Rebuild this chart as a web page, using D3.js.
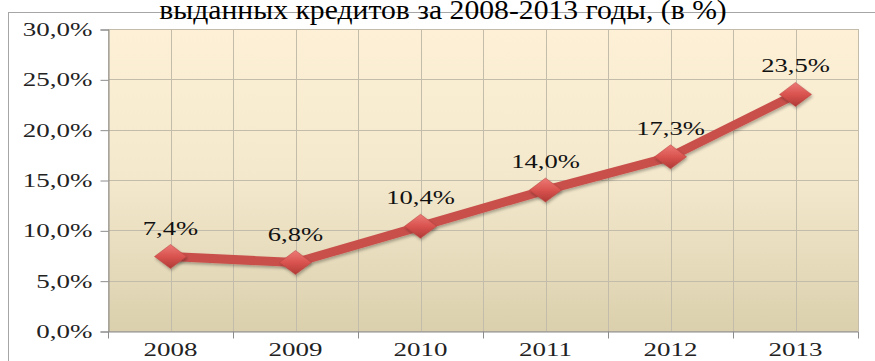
<!DOCTYPE html>
<html><head><meta charset="utf-8">
<script src="https://cdn.jsdelivr.net/npm/d3@7/dist/d3.min.js"></script>
<style>body{margin:0;background:#fff;} svg{display:block;}</style>
</head><body>
<svg id="c" width="875" height="361"></svg>
<script>
const title = "выданных кредитов за 2008-2013 годы, (в %)";
const years = ["2008","2009","2010","2011","2012","2013"];
const values = [7.4, 6.8, 10.4, 14.0, 17.3, 23.5];
const yTicks = [0, 5, 10, 15, 20, 25, 30];

const svg = d3.select("#c");
const W = 875, H = 361;
const m = {left:108, top:29, right:858, bottom:331};
const fmt = v => d3.format(".1f")(v).replace(".", ",") + "%";
const FF = '"Liberation Serif"';

const defs = svg.append("defs");
const bg = defs.append("linearGradient").attr("id","bg").attr("x1",0).attr("y1",0).attr("x2",0).attr("y2",1);
bg.append("stop").attr("offset","0%").attr("stop-color","#fdf0d6");
bg.append("stop").attr("offset","50%").attr("stop-color","#f3e8cc");
bg.append("stop").attr("offset","100%").attr("stop-color","#dbd0ad");
const dg = defs.append("linearGradient").attr("id","dg").attr("x1",0).attr("y1",0).attr("x2",0).attr("y2",1);
dg.append("stop").attr("offset","0%").attr("stop-color","#ec7a76");
dg.append("stop").attr("offset","50%").attr("stop-color","#d9534f");
dg.append("stop").attr("offset","100%").attr("stop-color","#b03a36");
const sh = defs.append("filter").attr("id","sh").attr("x","-20%").attr("y","-20%").attr("width","140%").attr("height","140%");
sh.append("feDropShadow").attr("dx",1).attr("dy",2).attr("stdDeviation",1.5).attr("flood-color","#000").attr("flood-opacity",0.3);

// outer frame
svg.append("rect").attr("x",8.5).attr("y",12.5).attr("width",W).attr("height",H)
  .attr("fill","#fff").attr("stroke","#a6a6a6");

// title (its top is clipped in the reference too)
svg.append("text").attr("x",0).attr("y",0).attr("transform","translate(443,19) scale(1.06,1)")
  .attr("text-anchor","middle").style("font-family",FF).attr("font-size",28)
  .attr("fill","#000").text(title);

const x = d3.scaleBand().domain(years).range([m.left, m.right]);
const y = d3.scaleLinear().domain([0,30]).range([m.bottom, m.top]);

svg.append("rect").attr("x",m.left).attr("y",m.top).attr("width",m.right-m.left)
  .attr("height",m.bottom-m.top).attr("fill","url(#bg)");

// grid
const g = svg.append("g");
yTicks.forEach(t=>{
  g.append("line").attr("x1",m.left).attr("x2",m.right).attr("y1",Math.round(y(t))+0.5).attr("y2",Math.round(y(t))+0.5)
   .attr("stroke","#c4bcaa").attr("stroke-width",1);
});
const vx = [];
years.forEach(d=>{ vx.push(x(d)); vx.push(x(d)+x.bandwidth()/2); });
vx.push(m.right);
vx.forEach(v=>{
  g.append("line").attr("x1",Math.round(v)+0.5).attr("x2",Math.round(v)+0.5).attr("y1",m.top).attr("y2",m.bottom)
   .attr("stroke","#c4bcaa").attr("stroke-width",1);
});

// axes
const yAxis = d3.axisLeft(y).tickValues(yTicks).tickSize(8).tickFormat(fmt);
const ya = svg.append("g").attr("transform",`translate(${m.left+0.5},0.5)`).call(yAxis);
ya.attr("font-family",null);
ya.select(".domain").attr("stroke","#8c8c8c");
ya.selectAll(".tick line").attr("stroke","#8c8c8c");
ya.selectAll(".tick text").each(function(d){
  const t = d3.select(this);
  t.attr("x",null).attr("dy",null).attr("text-anchor","end")
   .attr("transform",`translate(-16,6) scale(1.5,1)`)
   .style("font-family",FF).attr("font-size",18).attr("fill","#222");
});

const xAxis = d3.axisBottom(x).tickSize(0).tickSizeOuter(0);
const xa = svg.append("g").attr("transform",`translate(0,${m.bottom+0.5})`).call(xAxis);
xa.attr("font-family",null);
xa.select(".domain").attr("stroke","#8c8c8c");
xa.selectAll(".tick text").each(function(){
  const t = d3.select(this);
  t.attr("y",null).attr("dy",null).attr("text-anchor","middle")
   .attr("transform","translate(0,24) scale(1.5,1)")
   .style("font-family",FF).attr("font-size",18).attr("fill","#222");
});
years.concat(["end"]).forEach((d,i)=>{
  const xv = i<years.length ? x(d) : m.right;
  xa.append("line").attr("x1",Math.round(xv)+0.5).attr("x2",Math.round(xv)+0.5).attr("y1",0).attr("y2",7)
    .attr("stroke","#8c8c8c");
});

// line
const pts = years.map((d,i)=>[x(d)+x.bandwidth()/2, y(values[i])]);
svg.append("path").attr("d",d3.line()(pts)).attr("fill","none")
  .attr("stroke","#c9504c").attr("stroke-width",9).attr("stroke-linejoin","round")
  .attr("filter","url(#sh)");

// markers
const dw = 16, dh = 12;
svg.selectAll(".mk").data(pts).enter().append("path")
  .attr("d",p=>`M${p[0]-dw},${p[1]} L${p[0]},${p[1]-dh} L${p[0]+dw},${p[1]} L${p[0]},${p[1]+dh} Z`)
  .attr("fill","url(#dg)").attr("stroke","#b8423e").attr("stroke-width",0.5)
  .attr("filter","url(#sh)");

// labels
svg.selectAll(".lb").data(pts).enter().append("text")
  .attr("transform",(p)=>`translate(${p[0]},${p[1]-22}) scale(1.4,1)`)
  .attr("text-anchor","middle").style("font-family",FF).attr("font-size",19).attr("fill","#111")
  .text((p,i)=>fmt(values[i]));
</script>
</body></html>
